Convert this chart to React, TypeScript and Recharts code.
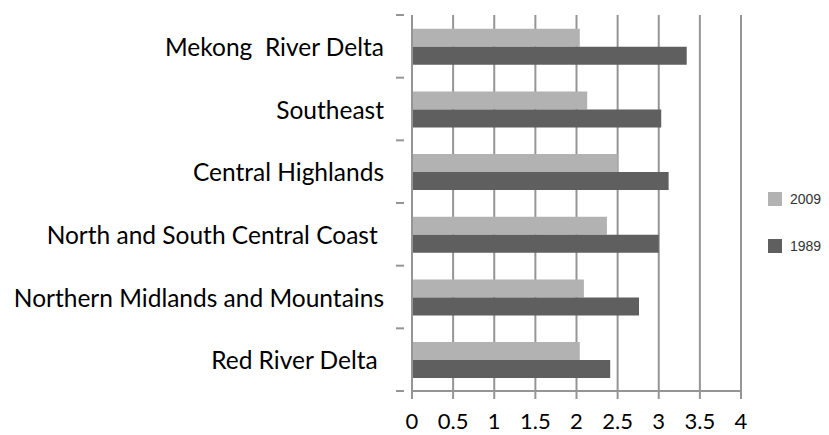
import React from "react";
import { BarChart, Bar, XAxis, YAxis, CartesianGrid, Legend } from "recharts";

const regions = [
  "Mekong  River Delta",
  "Southeast",
  "Central Highlands",
  "North and South Central Coast ",
  "Northern Midlands and Mountains",
  "Red River Delta ",
];
const values2009 = [2.04, 2.13, 2.5, 2.37, 2.09, 2.04];
const values1989 = [3.34, 3.03, 3.12, 3.0, 2.76, 2.41];
const xTicks = [0, 0.5, 1, 1.5, 2, 2.5, 3, 3.5, 4];
const seriesNames = ["2009", "1989"];

const data = regions.map((r, i) => ({
  region: r,
  v2009: values2009[i],
  v1989: values1989[i],
}));

const W = 829;
const H = 435;
const M = { top: 15, right: 88, bottom: 0, left: 0 };
const Y_W = 412;
const X_H = 44;
const PLOT_H = H - M.top - M.bottom - X_H;
const BAND = PLOT_H / regions.length;
const GRID = "#959595";
const LIGHT = "#b2b2b2";
const DARK = "#5f5f5f";
const FONT = "Lato, 'Open Sans', sans-serif";

const CatTick = (props: any) => {
  const { x, y, payload, index } = props;
  return (
    <g>
      {index === 0 && (
        <line x1={x - 8} x2={x} y1={y - BAND / 2} y2={y - BAND / 2} stroke={GRID} strokeWidth={2} />
      )}
      <line x1={x - 8} x2={x} y1={y + BAND / 2} y2={y + BAND / 2} stroke={GRID} strokeWidth={2} />
      <text
        x={x - 20}
        y={y}
        textAnchor="end"
        dominantBaseline="central"
        fontFamily={FONT}
        fontSize={24.5}
        fill="#000"
        style={{ whiteSpace: "pre" }}
      >
        {payload.value}
      </text>
    </g>
  );
};

const LegendContent = () => {
  const colors = [LIGHT, DARK];
  return (
    <div style={{ fontFamily: "'Liberation Sans', Arial, sans-serif", fontSize: 14, color: "#333" }}>
      {seriesNames.map((n, i) => (
        <div key={n} style={{ display: "flex", alignItems: "center", height: 47 }}>
          <div style={{ width: 14, height: 14, background: colors[i], marginRight: 8 }} />
          <span>{n}</span>
        </div>
      ))}
    </div>
  );
};

export default function App() {
  return (
    <div style={{ position: "absolute", left: 0, top: 0, width: W, height: H, background: "#fff" }}>
      <BarChart
        width={W}
        height={H}
        data={data}
        layout="vertical"
        margin={M}
        barCategoryGap="22%"
        barGap={0}
      >
        <CartesianGrid horizontal={false} stroke={GRID} strokeWidth={2} />
        <XAxis
          type="number"
          domain={[0, 4]}
          ticks={xTicks}
          height={X_H}
          tickSize={8}
          tickMargin={14}
          axisLine={{ stroke: GRID, strokeWidth: 2 }}
          tickLine={{ stroke: GRID, strokeWidth: 2 }}
          tick={{ fill: "#000", fontSize: 22, fontFamily: FONT }}
          interval={0}
        />
        <YAxis
          type="category"
          dataKey="region"
          width={Y_W}
          tick={<CatTick />}
          tickLine={false}
          axisLine={{ stroke: GRID, strokeWidth: 2 }}
          interval={0}
        />
        <Legend
          layout="horizontal"
          align="center"
          verticalAlign="middle"
          content={<LegendContent />}
          wrapperStyle={{ position: "absolute", left: 768, top: 175, width: 60 }}
        />
        <Bar dataKey="v2009" name={seriesNames[0]} fill={LIGHT} isAnimationActive={false} />
        <Bar dataKey="v1989" name={seriesNames[1]} fill={DARK} isAnimationActive={false} />
      </BarChart>
    </div>
  );
}
